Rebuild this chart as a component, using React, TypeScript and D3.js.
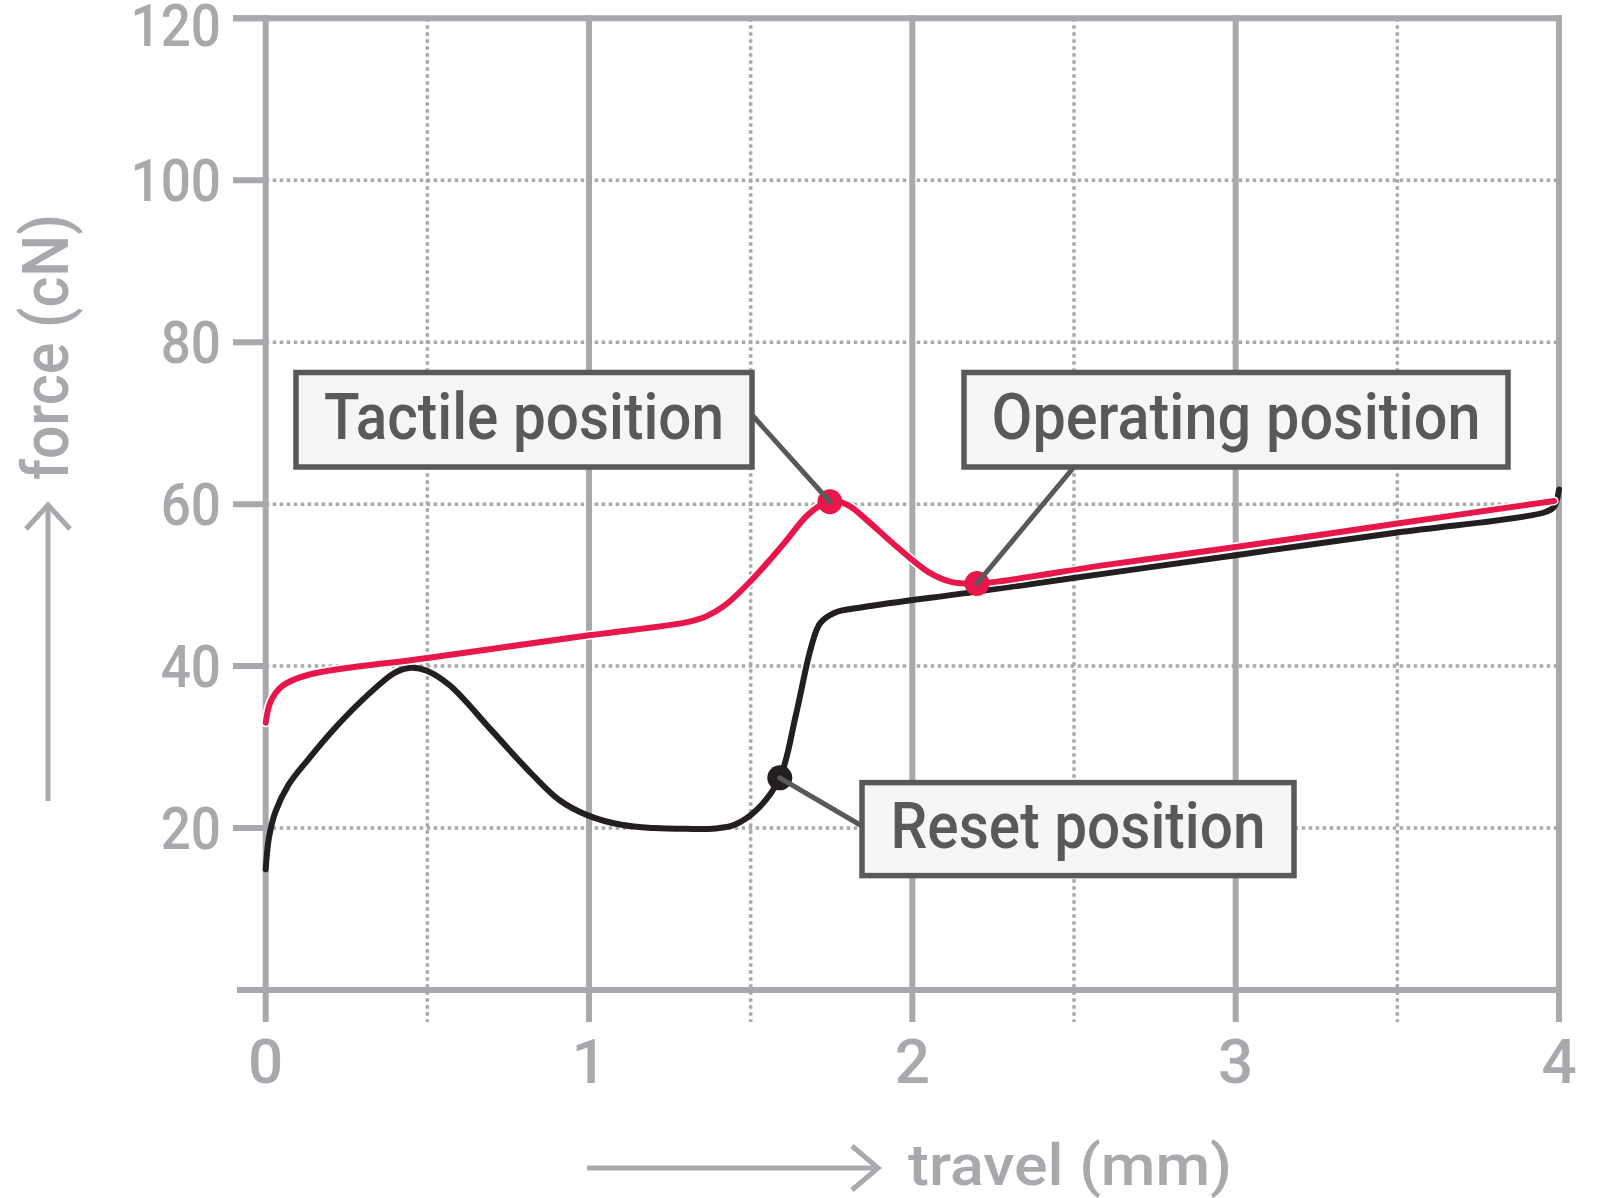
import React from "react";
import * as d3 from "d3";

// ---------- data ----------
const xMajorTicks = [0, 1, 2, 3, 4];
const xMinorTicks = [0.5, 1.5, 2.5, 3.5];
const yTicks = [20, 40, 60, 80, 100, 120];

// red curve (press)
const pressTravel = [0, 0.015, 0.05, 0.13, 0.5, 1.0, 1.3, 1.36, 1.42, 1.5, 1.6, 1.68, 1.745, 1.8, 1.86, 1.95, 2.05, 2.12, 2.2, 2.6, 3.0, 3.5, 3.985];
const pressForce = [33.0, 35.6, 37.5, 38.9, 41.0, 43.8, 45.4, 46.1, 47.5, 50.5, 55.0, 58.8, 60.4, 59.9, 58.0, 54.8, 51.6, 50.4, 50.2, 52.5, 54.7, 57.6, 60.4];

// black curve (release)
const releaseTravel = [0, 0.01, 0.03, 0.07, 0.13, 0.22, 0.32, 0.4, 0.45, 0.5, 0.57, 0.7, 0.82, 0.91, 1.0, 1.1, 1.2, 1.3, 1.39, 1.45, 1.52, 1.59, 1.64, 1.686, 1.715, 1.76, 1.85, 2.2, 2.6, 3.0, 3.5, 3.956, 3.985, 4.0];
const releaseForce = [14.9, 18.8, 22.0, 25.3, 28.4, 32.6, 36.6, 39.2, 39.8, 39.4, 37.6, 32.0, 26.8, 23.4, 21.5, 20.4, 20.0, 19.9, 19.95, 20.4, 22.3, 26.2, 34.0, 42.2, 45.3, 46.6, 47.3, 49.2, 51.45, 53.7, 56.5, 59.0, 59.7, 61.8];

const markerLabels = ["Tactile position", "Operating position", "Reset position"];
const markerTravel = [1.745, 2.2, 1.59];
const markerForce = [60.3, 50.2, 26.2];
const markerSeries = ["press", "press", "release"];

const xTitle = "travel (mm)";
const yTitle = "force (cN)";

// ---------- layout / style ----------
const W = 1600;
const H = 1198;
const X0 = 265.7;
const X1 = 1559;
const Y0 = 990;
const Y1 = 18.3;

const GRID = "#a7a9ac";
const DARK = "#58595b";
const RED = "#e8174b";
const BLACK = "#231f20";
const FONT = "Roboto, 'DejaVu Sans', sans-serif";

// annotation boxes
const boxLayout = [
  { x: 296, y: 372.5, w: 456, h: 94.5, tl: 400, ax: 752, ay: 415 },
  { x: 964, y: 372.5, w: 544, h: 94.5, tl: 489, ax: 1074, ay: 467 },
  { x: 862, y: 782.6, w: 432, h: 93, tl: 375, ax: 862, ay: 826 },
];

export default function App() {
  const x = d3.scaleLinear().domain([0, 4]).range([X0, X1]);
  const y = d3.scaleLinear().domain([0, 120]).range([Y0, Y1]);

  const line = d3
    .line<[number, number]>()
    .x((d) => x(d[0]))
    .y((d) => y(d[1]))
    .curve(d3.curveCatmullRom.alpha(0.5));

  const pressPts = pressTravel.map((t, i) => [t, pressForce[i]] as [number, number]);
  const releasePts = releaseTravel.map((t, i) => [t, releaseForce[i]] as [number, number]);

  const gridBottom = 1022;

  return (
    <svg
      width={W}
      height={H}
      viewBox={`0 0 ${W} ${H}`}
      style={{ position: "absolute", left: 0, top: 0, background: "#fff" }}
    >
      <rect x={0} y={0} width={W} height={H} fill="#fff" />
      {/* horizontal dotted grid */}
      {yTicks
        .filter((v) => v !== 120)
        .map((v) => (
          <line
            key={"hg" + v}
            x1={x(0)}
            x2={x(4)}
            y1={y(v)}
            y2={y(v)}
            stroke={GRID}
            strokeWidth={3.5}
            strokeDasharray="3.5 3.5"
          />
        ))}
      {/* y tick marks */}
      {yTicks.map((v) => (
        <line key={"yt" + v} x1={233} x2={x(0)} y1={y(v)} y2={y(v)} stroke={GRID} strokeWidth={6} />
      ))}
      {/* top solid line */}
      <line x1={233} x2={x(4) + 3} y1={y(120)} y2={y(120)} stroke={GRID} strokeWidth={6} />
      {/* minor vertical dotted */}
      {xMinorTicks.map((v) => (
        <line
          key={"xm" + v}
          x1={x(v)}
          x2={x(v)}
          y1={y(120)}
          y2={gridBottom}
          stroke={GRID}
          strokeWidth={3.5}
          strokeDasharray="3.5 3.5"
        />
      ))}
      {/* major vertical solid */}
      {xMajorTicks.map((v) => (
        <line key={"xg" + v} x1={x(v)} x2={x(v)} y1={y(120) - 3} y2={gridBottom} stroke={GRID} strokeWidth={6} />
      ))}
      {/* x axis line */}
      <line x1={237} x2={x(4) + 3} y1={y(0)} y2={y(0)} stroke={GRID} strokeWidth={6} />

      {/* tick labels */}
      {yTicks.map((v) => (
        <text
          key={"yl" + v}
          transform={`translate(221,${Math.max(y(v) + 21, 46)}) scale(0.9,1)`}
          textAnchor="end"
          fontFamily={FONT}
          fontWeight={500}
          fontSize={59}
          fill={GRID}
        >
          {v}
        </text>
      ))}
      {xMajorTicks.map((v) => (
        <text
          key={"xl" + v}
          x={x(v)}
          y={1083}
          textAnchor="middle"
          fontFamily={FONT}
          fontWeight={500}
          fontSize={62}
          fill={GRID}
        >
          {v}
        </text>
      ))}

      {/* axis titles with arrows */}
      <line x1={587} x2={876} y1={1168} y2={1168} stroke={GRID} strokeWidth={5} />
      <polyline points="852,1146 878,1168 852,1190" fill="none" stroke={GRID} strokeWidth={5} />
      <text
        x={908}
        y={1185}
        fontFamily={FONT}
        fontWeight={500}
        fontSize={58}
        textLength={324}
        lengthAdjust="spacingAndGlyphs"
        fill={GRID}
      >
        {xTitle}
      </text>
      <line x1={48} x2={48} y1={801} y2={507} stroke={GRID} strokeWidth={5} />
      <polyline points="26,529 48,505 70,529" fill="none" stroke={GRID} strokeWidth={5} />
      <text
        transform="translate(68,480) rotate(-90)"
        fontFamily={FONT}
        fontWeight={500}
        fontSize={64}
        textLength={266}
        lengthAdjust="spacingAndGlyphs"
        fill={GRID}
      >
        {yTitle}
      </text>

      {/* curves */}
      <path d={line(releasePts) || ""} fill="none" stroke={BLACK} strokeWidth={6} strokeLinecap="round" strokeLinejoin="round" />
      <path d={line(pressPts) || ""} fill="none" stroke="#fff" strokeWidth={9} strokeLinecap="round" strokeLinejoin="round" />
      <path d={line(pressPts) || ""} fill="none" stroke={RED} strokeWidth={6} strokeLinecap="round" strokeLinejoin="round" />

      {/* markers */}
      {markerTravel.map((t, i) => (
        <circle
          key={"mk" + i}
          cx={x(t)}
          cy={y(markerForce[i])}
          r={12.5}
          fill={markerSeries[i] === "press" ? RED : BLACK}
        />
      ))}

      {/* leaders */}
      {markerTravel.map((t, i) => (
        <line
          key={"ld" + i}
          x1={boxLayout[i].ax}
          y1={boxLayout[i].ay}
          x2={x(t)}
          y2={y(markerForce[i])}
          stroke={DARK}
          strokeWidth={5}
          strokeLinecap="round"
        />
      ))}

      {/* boxes */}
      {markerLabels.map((label, i) => {
        const b = boxLayout[i];
        return (
          <g key={"bx" + i}>
            <rect x={b.x} y={b.y} width={b.w} height={b.h} fill="#f6f6f6" stroke={DARK} strokeWidth={5.5} />
            <text
              x={b.x + b.w / 2}
              y={b.y + b.h / 2 + 19}
              textAnchor="middle"
              fontFamily={FONT}
              fontWeight={500}
              fontSize={64}
              textLength={b.tl}
              lengthAdjust="spacingAndGlyphs"
              fill={DARK}
            >
              {label}
            </text>
          </g>
        );
      })}
    </svg>
  );
}
